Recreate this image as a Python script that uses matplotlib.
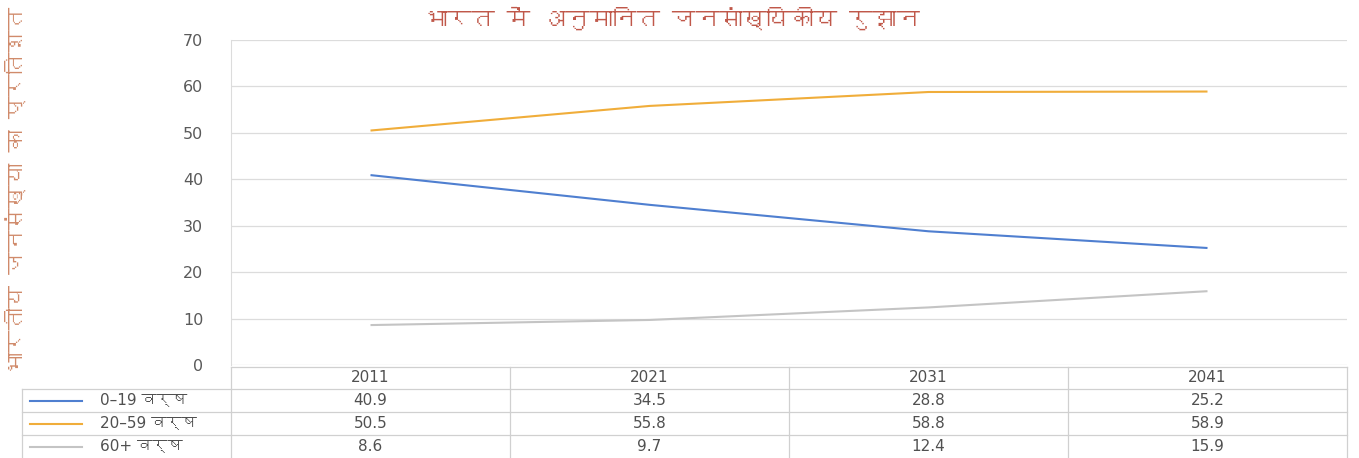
import matplotlib
matplotlib.use("Agg")
import matplotlib.pyplot as plt
from matplotlib import font_manager
from matplotlib.ft2font import FT2Font
from matplotlib.lines import Line2D

# data
years = ["2011", "2021", "2031", "2041"]
age_0_19 = [40.9, 34.5, 28.8, 25.2]
age_20_59 = [50.5, 55.8, 58.8, 58.9]
age_60_plus = [8.6, 9.7, 12.4, 15.9]
series_labels = ["0\u201319 वर्ष", "20\u201359 वर्ष", "60+ वर्ष"]
series_colors = ["#4f7fd0", "#f0ad3a", "#c4c4c4"]
title = "भारत में अनुमानित जनसांख्यिकीय रुझान"
ylabel = "भारतीय जनसंख्या का प्रतिशत"
yticks = [0, 10, 20, 30, 40, 50, 60, 70]


def find_deva_font():
    # look for any installed font with Devanagari glyphs
    for f in font_manager.fontManager.ttflist:
        try:
            cmap = FT2Font(f.fname).get_charmap()
        except Exception:
            continue
        if 0x092D in cmap and 0x0930 in cmap:
            return f.name
    return None


deva = find_deva_font()
title_fams = ["DejaVu Sans"]
label_fams = ["DejaVu Sans"]
if deva:
    title_fams = [deva, "DejaVu Sans"]
    label_fams = ["DejaVu Sans", deva]
plt.rcParams["font.family"] = ["DejaVu Sans"]

W, H = 1359, 458
fig = plt.figure(figsize=(W / 100, H / 100), dpi=100)
x0, x1 = 231, 1347
ytop, ybot = 40, 365
ax = fig.add_axes([x0 / W, 1 - ybot / H, (x1 - x0) / W, (ybot - ytop) / H])

data = [age_0_19, age_20_59, age_60_plus]
xs = list(range(len(years)))
for vals, col in zip(data, series_colors):
    ax.plot(xs, vals, color=col, lw=1.5, solid_capstyle="butt")

ax.set_xlim(-0.5, len(years) - 0.5)
ax.set_ylim(0, 70)
ax.set_yticks(yticks)
ax.set_yticklabels([str(t) for t in yticks])
ax.set_xticks([])
ax.tick_params(axis="y", length=0, pad=20, labelsize=11.5, labelcolor="#5a5a5a")
ax.grid(axis="y", color="#dcdcdc", lw=0.9)
ax.set_axisbelow(True)
for s in ["top", "right", "bottom"]:
    ax.spines[s].set_visible(False)
ax.spines["left"].set_color("#dcdcdc")

# table below the plot
def fx(px):
    return px / W


def fy(py):
    return 1 - py / H


grid_col = "#d0d0d0"
row_y = [367, 389, 412, 435, 458]
col_x = [x0 + i * (x1 - x0) / len(years) for i in range(len(years) + 1)]
tleft = 22
# horizontal lines
fig.add_artist(Line2D([fx(x0), fx(x1)], [fy(row_y[0])] * 2, color=grid_col, lw=0.9))
for r in row_y[1:4]:
    fig.add_artist(Line2D([fx(tleft), fx(x1)], [fy(r)] * 2, color=grid_col, lw=0.9))
# vertical lines
for cx in col_x:
    fig.add_artist(Line2D([fx(cx)] * 2, [fy(row_y[0]), fy(458)], color=grid_col, lw=0.9))
fig.add_artist(Line2D([fx(tleft)] * 2, [fy(row_y[1]), fy(458)], color=grid_col, lw=0.9))

for i, yr in enumerate(years):
    cx = (col_x[i] + col_x[i + 1]) / 2
    fig.text(fx(cx), fy((row_y[0] + row_y[1]) / 2), yr, ha="center", va="center",
             fontsize=11, color="#505050")
    for j, vals in enumerate(data):
        cy = (row_y[j + 1] + row_y[j + 2]) / 2
        fig.text(fx(cx), fy(cy), f"{vals[i]:.1f}", ha="center", va="center",
                 fontsize=11, color="#505050")

for j, (lab, col) in enumerate(zip(series_labels, series_colors)):
    cy = (row_y[j + 1] + row_y[j + 2]) / 2
    fig.add_artist(Line2D([fx(30), fx(82)], [fy(cy)] * 2, color=col, lw=1.5))
    fig.text(fx(100), fy(cy), lab, ha="left", va="center", fontsize=11,
             color="#505050", family=label_fams)

fig.text(fx(672), fy(18), title, ha="center", va="center", fontsize=17,
         color="#c0584a", family=title_fams)
fig.text(fx(16), fy(190), ylabel, ha="center", va="center", rotation=90,
         fontsize=16, color="#d08a6a", family=title_fams)

fig.savefig("out.png", dpi=100)
